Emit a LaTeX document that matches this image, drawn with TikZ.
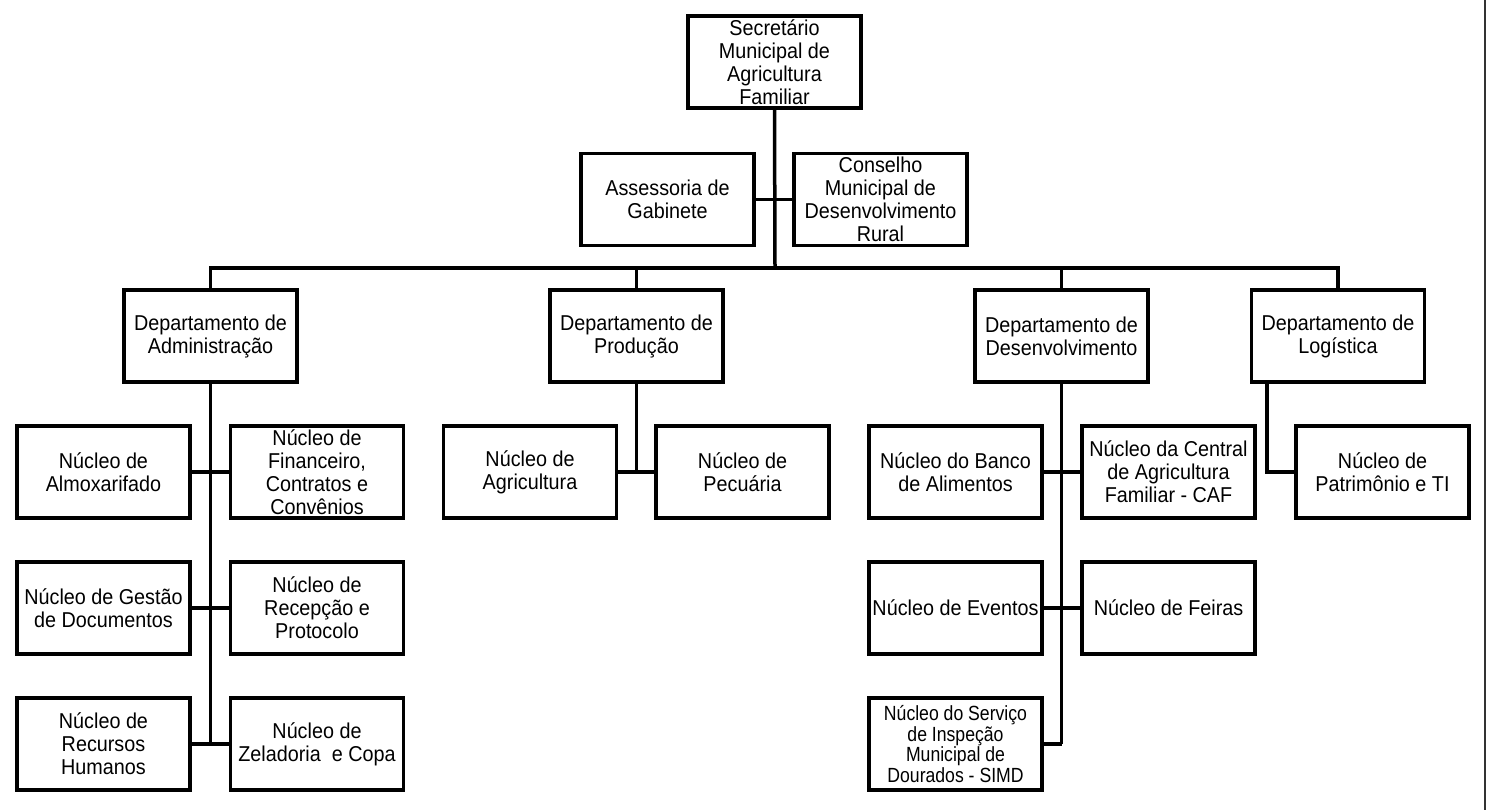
\documentclass[tikz,border=0pt]{standalone}
\usepackage{fontspec}
\setmainfont{Liberation Sans}[FakeStretch=0.92]
\newfontfamily\condfont{Liberation Sans}[FakeStretch=0.86]
\begin{document}
\begin{tikzpicture}[x=1pt,y=-1pt,
  box/.style={draw, line width=3.5pt, minimum width=173pt, minimum height=92pt,
    inner sep=0pt, align=center, font=\fontsize{21.5}{23}\selectfont},
  smallbox/.style={box, font=\condfont\fontsize{20.5}{20.5}\selectfont},
  conn/.style={line width=3.5pt}]
\useasboundingbox (0,0) rectangle (1487,810);
\fill[white] (0,0) rectangle (1487,810);
% top
\node[box] (sec) at (774.5,62) {Secretário\\Municipal de\\Agricultura\\Familiar};
\node[box] (ases) at (667.5,199.5) {Assessoria de\\Gabinete};
\node[box] (cons) at (880.5,199.5) {Conselho\\Municipal de\\Desenvolvimento\\Rural};
% departments
\node[box] (adm) at (210.5,336) {Departamento de\\Administração};
\node[box] (prod) at (636.5,336) {Departamento de\\Produção};
\node[box] (desv) at (1061.5,336) {Departamento de\\Desenvolvimento};
\node[box] (log) at (1338,336) {Departamento de\\Logística};
% admin nuclei
\node[box] (almox) at (103.5,472) {Núcleo de\\Almoxarifado};
\node[box] (fin) at (317,472) {Núcleo de\\Financeiro,\\Contratos e\\Convênios};
\node[box] (gest) at (103.5,608) {Núcleo de Gestão\\de Documentos};
\node[box] (rec) at (317,608) {Núcleo de\\Recepção e\\Protocolo};
\node[box] (rh) at (103.5,744) {Núcleo de\\Recursos\\Humanos};
\node[box] (zel) at (317,744) {Núcleo de\\Zeladoria\ \ e Copa};
% production nuclei
\node[box] (agri) at (530,472) {Núcleo de\\Agricultura};
\node[box] (pec) at (742.5,472) {Núcleo de\\Pecuária};
% development nuclei
\node[box] (banco) at (955.5,472) {Núcleo do Banco\\de Alimentos};
\node[box] (central) at (1168.5,472) {Núcleo da Central\\de Agricultura\\Familiar - CAF};
\node[box] (evt) at (955.5,608) {Núcleo de Eventos};
\node[box] (fei) at (1168.5,608) {Núcleo de Feiras};
\node[smallbox] (simd) at (955.5,744) {Núcleo do Serviço\\de Inspeção\\Municipal de\\Dourados - SIMD};
% logistics nucleus
\node[box] (patr) at (1382.5,472) {Núcleo de\\Patrimônio e TI};
% connectors
\coordinate (bus) at (775,268);
\draw[conn] (sec.south) -- (bus);
\draw[conn] (ases.east) -- (cons.west);
\draw[conn] (adm.north) |- (bus) -| (log.north);
\draw[conn] (prod.north) -- (prod.north |- bus);
\draw[conn] (desv.north) -- (desv.north |- bus);
\draw[conn] (adm.south) -- (adm.south |- rh.east);
\draw[conn] (almox.east) -- (fin.west);
\draw[conn] (gest.east) -- (rec.west);
\draw[conn] (rh.east) -- (zel.west);
\draw[conn] (prod.south) -- (prod.south |- agri.east);
\draw[conn] (agri.east) -- (pec.west);
\draw[conn] (desv.south) -- (desv.south |- simd.east);
\draw[conn] (banco.east) -- (central.west);
\draw[conn] (evt.east) -- (fei.west);
\draw[conn] (simd.east) -- (desv.south |- simd.east);
\draw[conn] ([xshift=17pt]log.south west) |- (patr.west);
% right border
\draw[line width=2pt, black!80] (1485,0) -- (1485,810);
\end{tikzpicture}
\end{document}
